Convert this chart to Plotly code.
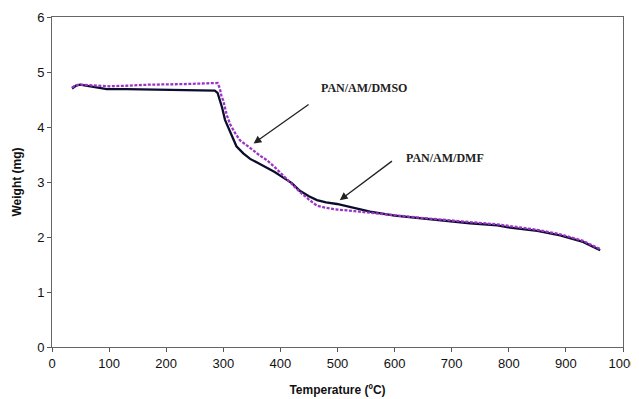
import plotly.graph_objects as go

# PAN/AM/DMF (solid)
dmf_t = [35, 42, 49, 60, 72, 96, 130, 183, 230, 285, 290, 294, 298, 303, 309, 315, 323, 335, 347, 360,
         376, 390, 405, 420, 434, 450, 464, 480, 499, 530, 557, 600, 644, 700, 732, 780, 802, 850, 890, 930, 960]
dmf_w = [4.70, 4.75, 4.77, 4.75, 4.72, 4.69, 4.69, 4.68, 4.66, 4.66, 4.62, 4.49, 4.35, 4.13, 3.98, 3.82, 3.65,
         3.52, 3.42, 3.35, 3.26, 3.18, 3.08, 2.98, 2.84, 2.74, 2.67, 2.63, 2.60, 2.52, 2.46, 2.39, 2.34, 2.29,
         2.25, 2.21, 2.17, 2.11, 2.03, 1.91, 1.76]

# PAN/AM/DMSO (dashed)
dmso_t = [35, 42, 50, 65, 80, 100, 130, 170, 230, 285, 290, 294, 297, 300, 306, 312, 320, 329, 340, 352,
          364, 376, 390, 405, 420, 434, 450, 464, 480, 499, 530, 557, 600, 644, 700, 780, 850, 890, 930, 960]
dmso_w = [4.72, 4.76, 4.77, 4.76, 4.74, 4.74, 4.75, 4.77, 4.78, 4.79, 4.80, 4.70, 4.55, 4.48, 4.22, 4.05,
          3.90, 3.76, 3.68, 3.58, 3.48, 3.40, 3.27, 3.12, 2.97, 2.82, 2.68, 2.57, 2.53, 2.50, 2.47, 2.44,
          2.39, 2.35, 2.30, 2.23, 2.13, 2.05, 1.93, 1.78]

x_ticks = [0, 100, 200, 300, 400, 500, 600, 700, 800, 900, 1000]
y_ticks = [0, 1, 2, 3, 4, 5, 6]

fig = go.Figure()
fig.add_trace(go.Scatter(x=dmf_t, y=dmf_w, mode="lines", name="PAN/AM/DMF",
                         line=dict(color="#0c0c2e", width=2.3)))
fig.add_trace(go.Scatter(x=dmso_t, y=dmso_w, mode="lines", name="PAN/AM/DMSO",
                         line=dict(color="#9a35c8", width=2.3, dash="3px,1.5px")))

label_font = dict(family="Liberation Serif", size=12, color="#222222")
fig.add_annotation(x=546, y=4.71, text="<b>PAN/AM/DMSO</b>", showarrow=False, font=label_font)
fig.add_annotation(x=689, y=3.43, text="<b>PAN/AM/DMF</b>", showarrow=False, font=label_font)
fig.add_annotation(x=353, y=3.70, ax=452, ay=4.43, axref="x", ayref="y", text="",
                   showarrow=True, arrowhead=2, arrowsize=1.2, arrowwidth=1.3, arrowcolor="#222222")
fig.add_annotation(x=504, y=2.67, ax=598, ay=3.40, axref="x", ayref="y", text="",
                   showarrow=True, arrowhead=2, arrowsize=1.2, arrowwidth=1.3, arrowcolor="#222222")

axis_font = dict(family="Liberation Sans", size=13, color="#111111")
title_font = dict(family="Liberation Sans", size=12, color="#111111")
fig.update_xaxes(range=[0, 1000], tickvals=x_ticks, ticks="outside", ticklen=4, tickcolor="#555555",
                 showgrid=False, zeroline=False, showline=True, linecolor="#666666", linewidth=1,
                 mirror=True, tickfont=axis_font, automargin=False,
                 title=dict(text="<b>Temperature (ºC)</b>", font=title_font, standoff=16))
fig.update_yaxes(range=[0, 6], tickvals=y_ticks, ticks="outside", ticklen=4, tickcolor="#555555",
                 showgrid=False, zeroline=False, showline=True, linecolor="#666666", linewidth=1,
                 mirror=True, tickfont=axis_font, automargin=False,
                 title=dict(text="<b>Weight (mg)</b>", font=title_font, standoff=12))
# page body has an 8px margin, so the figure is sized/placed to land the plot where the reference has it
fig.update_layout(width=631, height=391, margin=dict(l=44, r=16, t=9, b=52),
                  plot_bgcolor="white", paper_bgcolor="white", showlegend=False)
fig.write_html("out.html")
